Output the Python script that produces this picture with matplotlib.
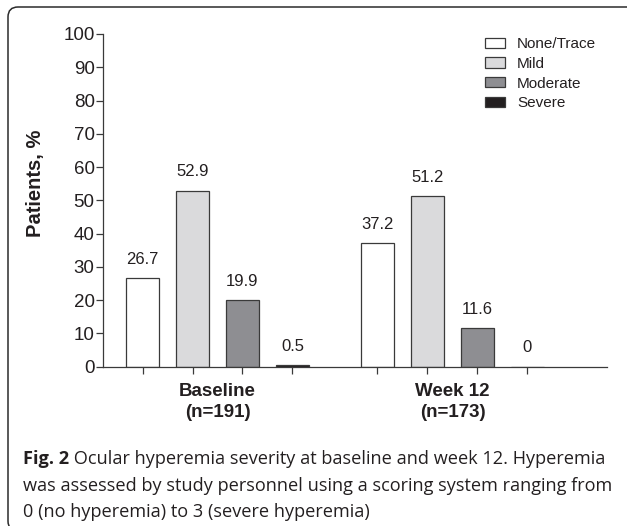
import numpy as np
import matplotlib
matplotlib.use("Agg")
import matplotlib.pyplot as plt
from matplotlib.patches import FancyBboxPatch, Patch
from matplotlib import transforms

# data
groups = ["Baseline\n(n=191)", "Week 12\n(n=173)"]
severities = ["None/Trace", "Mild", "Moderate", "Severe"]
baseline = [26.7, 52.9, 19.9, 0.5]
week12 = [37.2, 51.2, 11.6, 0.0]
value_labels = [["26.7", "52.9", "19.9", "0.5"], ["37.2", "51.2", "11.6", "0"]]
colors = ["#ffffff", "#dadadc", "#8e8e92", "#231f20"]
yticks = list(range(0, 101, 10))

caption_bold = "Fig. 2"
caption_lines = [" Ocular hyperemia severity at baseline and week 12. Hyperemia",
                 "was assessed by study personnel using a scoring system ranging from",
                 "0 (no hyperemia) to 3 (severe hyperemia)"]

txt = "#231f20"
plt.rcParams['font.family'] = ['Liberation Sans', 'DejaVu Sans']

fig = plt.figure(figsize=(6.27, 5.26), dpi=100)
ax = fig.add_axes([0.1643, 0.3029, 0.8037, 0.6325])

group_start = [0.0, 4.7]
width = 0.66
for g, vals in enumerate([baseline, week12]):
    x = group_start[g] + np.arange(len(vals))
    ax.bar(x, vals, width=width, color=colors, edgecolor="#3a3a3a", linewidth=0.9, zorder=2)
    for xi, v, lab in zip(x, vals, value_labels[g]):
        ax.annotate(lab, (xi, v), xytext=(0, 13.5), textcoords="offset points",
                    ha="center", va="center", fontsize=12, color=txt)

xt = np.concatenate([group_start[0] + np.arange(4), group_start[1] + np.arange(4)])
ax.set_xticks(xt)
ax.set_xticklabels([])
ax.set_xlim(-0.79, 9.29)
ax.set_ylim(0, 100)
ax.set_yticks(yticks)
ax.tick_params(axis="both", direction="out", length=5, width=0.9, color="#3a3a3a",
               labelsize=13.5, labelcolor=txt, pad=1)
for s in ["top", "right"]:
    ax.spines[s].set_visible(False)
for s in ["left", "bottom"]:
    ax.spines[s].set_linewidth(0.9)
    ax.spines[s].set_color("#3a3a3a")

tr = transforms.blended_transform_factory(ax.transData, ax.transAxes)
for g, name in enumerate(groups):
    ax.text(group_start[g] + 1.5, -0.048, name, transform=tr, ha="center", va="top",
            fontsize=13.5, fontweight="bold", color=txt, linespacing=1.32)

ax.set_ylabel("Patients, %", fontsize=14.5, fontweight="bold", color=txt)
ax.yaxis.set_label_coords(-0.115, 0.55)

handles = [Patch(facecolor=c, edgecolor="#3a3a3a", linewidth=0.9) for c in colors]
ax.legend(handles, severities, loc="upper left", bbox_to_anchor=(0.758, 0.99),
          frameon=False, fontsize=11, handlelength=1.3, handleheight=0.65,
          labelspacing=0.37, handletextpad=0.8, borderpad=0, borderaxespad=0,
          labelcolor=txt)

# rounded frame around figure
frame = FancyBboxPatch((8, 0 - 5), 640, 526 - 7 + 5, boxstyle="round,pad=0,rounding_size=10",
                       transform=None, facecolor="none", edgecolor="#2b2b2b", linewidth=1.1)
fig.patches.append(frame)

# caption
cap_font = ['Open Sans', 'DejaVu Sans']
cap_size = 13.1
t0 = fig.text(23 / 627, 1 - 459 / 526, caption_bold, fontsize=cap_size, fontweight="bold",
              family=cap_font, color=txt, va="center")
fig.canvas.draw()
bb = t0.get_window_extent()
fig.text(bb.x1 / 627, 1 - 459 / 526, caption_lines[0], fontsize=cap_size, family=cap_font,
         color=txt, va="center")
fig.text(23 / 627, 1 - 486 / 526, caption_lines[1], fontsize=cap_size, family=cap_font,
         color=txt, va="center")
fig.text(23 / 627, 1 - 512 / 526, caption_lines[2], fontsize=cap_size, family=cap_font,
         color=txt, va="center")

fig.savefig("out.png", dpi=100)
